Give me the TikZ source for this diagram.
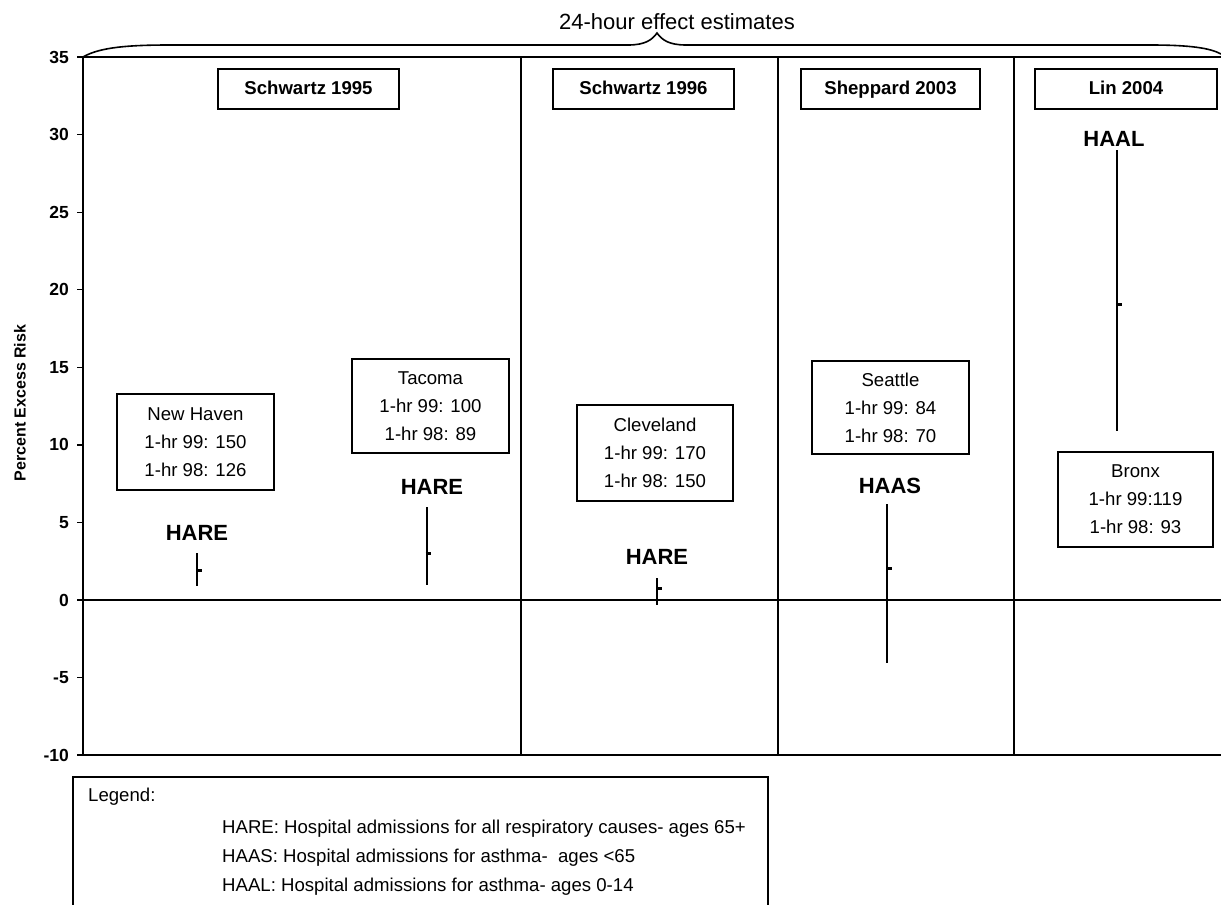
\documentclass[tikz,border=0pt]{standalone}
\usepackage{fontspec}
\setmainfont{Liberation Sans}
\begin{document}
\begin{tikzpicture}[x=1pt,y=-1pt,
  frame/.style={line width=2pt},
  hdr/.style={draw,line width=2pt,inner sep=0pt,text height=13.5pt,text depth=3.5pt,font=\bfseries\fontsize{18.6}{22}\selectfont},
  cbox/.style={draw,line width=2pt,inner sep=0pt,align=center,font=\fontsize{18.6}{28}\selectfont},
  lab/.style={font=\bfseries\fontsize{22}{26}\selectfont},
  ticklab/.style={anchor=east,inner sep=0pt,font=\bfseries\fontsize{17.5}{20}\selectfont},
  ebar/.style={line width=1.3pt},
  est/.style={line width=3pt},
  legtext/.style={anchor=west,inner sep=0pt,font=\fontsize{18.6}{22}\selectfont}]
\clip (0,0) rectangle (1221,905);
\fill[white] (0,0) rectangle (1221,905);

% title and brace
\node[font=\fontsize{22}{26}\selectfont] (title) at (677,22) {24-hour effect estimates};
\draw[line width=1.6pt] (83,57) .. controls (100,47) and (130,45) .. (170,45) -- (628,45)
  .. controls (645,45) and (652,40) .. (657,33) .. controls (662,40) and (669,45) .. (686,45)
  -- (1150,45) .. controls (1190,45) and (1210,48) .. (1221,54);

% frame
\draw[frame] (1221,57) -- (83,57) -- (83,755) -- (1221,755);
\draw[frame] (83,600) -- (1221,600);
\foreach \xx in {521,778,1014} \draw[frame] (\xx,57) -- (\xx,755);

% ticks
\foreach \v in {35,30,...,-10} {
  \draw[line width=1.4pt] (77,{600-15.511*\v}) -- (83,{600-15.511*\v});
  \node[ticklab] at (69,{600-15.511*\v}) {\v};
}
\node[rotate=90,font=\bfseries\fontsize{16}{19}\selectfont] (ytitle) at (20,403) {Percent Excess Risk};

% header boxes
\node[hdr,minimum width=181pt,minimum height=40pt] (h1) at (308.5,89) {Schwartz 1995};
\node[hdr,minimum width=181pt,minimum height=40pt] (h2) at (643.5,89) {Schwartz 1996};
\node[hdr,minimum width=179pt,minimum height=40pt] (h3) at (890.5,89) {Sheppard 2003};
\node[hdr,minimum width=182pt,minimum height=40pt] (h4) at (1126,89) {Lin 2004};

% city boxes
\node[cbox,minimum width=157pt,minimum height=96pt] (nh) at (195.5,442) {New Haven\\1-hr 99: 150\\1-hr 98: 126};
\node[cbox,minimum width=157pt,minimum height=94pt] (tac) at (430.5,406) {Tacoma\\1-hr 99: 100\\1-hr 98: 89};
\node[cbox,minimum width=156pt,minimum height=96pt] (cle) at (655,453) {Cleveland\\1-hr 99: 170\\1-hr 98: 150};
\node[cbox,minimum width=157pt,minimum height=93pt] (sea) at (890.5,407.5) {Seattle\\1-hr 99: 84\\1-hr 98: 70};
\node[cbox,minimum width=155pt,minimum height=95pt] (brx) at (1135.5,499.5) {Bronx\\1-hr 99:119\\1-hr 98: 93};

% outcome labels
\node[lab] (l1) at (197,533) {HARE};
\node[lab] (l2) at (432,487) {HARE};
\node[lab] (l3) at (657,557) {HARE};
\node[lab] (l4) at (890,486) {HAAS};
\node[lab] (l5) at (1114,139) {HAAL};

% error bars
\draw[ebar] (197,553) -- (197,586);  \draw[est] (196.5,570) -- (201.5,570);
\draw[ebar] (427,507) -- (427,585);  \draw[est] (425.5,553) -- (431,553);
\draw[ebar] (657,578) -- (657,605);  \draw[est] (656.5,588) -- (661.5,588);
\draw[ebar] (887,504) -- (887,663);  \draw[est] (886,568) -- (892,568);
\draw[ebar] (1117,150) -- (1117,431); \draw[est] (1116.5,304) -- (1121.5,304);

% legend
\draw[frame] (73,930) -- (73,777) -- (768,777) -- (768,930);
\node[legtext] (lg) at (88,797) {Legend:};
\node[legtext] (lg1) at (222,829) {HARE: Hospital admissions for all respiratory causes- ages 65+};
\node[legtext] (lg2) at (222,858) {HAAS: Hospital admissions for asthma-~ ages <65};
\node[legtext] (lg3) at (222,887) {HAAL: Hospital admissions for asthma- ages 0-14};
\end{tikzpicture}
\end{document}
